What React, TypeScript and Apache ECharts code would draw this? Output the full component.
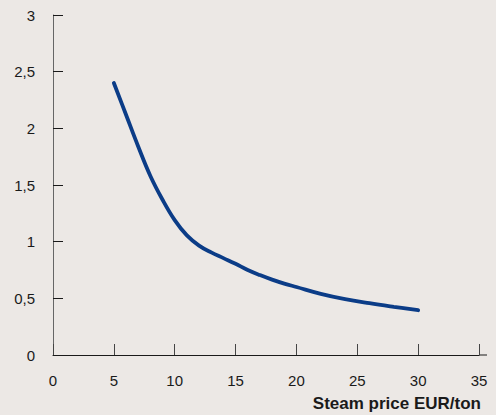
import React, { useEffect, useRef } from "react";
import * as echarts from "echarts";

const xValues = [5, 6, 7, 8, 9, 10, 11, 12, 13, 14, 15, 16, 17, 18, 19, 20, 22, 24, 26, 28, 30];
const yValues = [2.4, 2.12, 1.84, 1.58, 1.37, 1.19, 1.055, 0.965, 0.905, 0.855, 0.805, 0.75, 0.705, 0.665, 0.63, 0.6, 0.54, 0.493, 0.457, 0.425, 0.395];
const xAxisName = "Steam price EUR/ton";

export default function App() {
  const ref = useRef<HTMLDivElement>(null);
  useEffect(() => {
    const chart = echarts.init(ref.current!, null, { renderer: "svg" });
    const font = "'Liberation Sans', Arial, Helvetica, sans-serif";
    chart.setOption({
      animation: false,
      backgroundColor: "#ECE8E5",
      grid: { left: 53, right: 17, top: 15, bottom: 60, containLabel: false },
      xAxis: {
        type: "value",
        min: 0,
        max: 35,
        interval: 5,
        name: xAxisName,
        nameLocation: "end",
        nameGap: 2,
        nameTextStyle: {
          fontFamily: font,
          fontSize: 17,
          fontWeight: "bold",
          color: "#1a1a1a",
          align: "right",
          verticalAlign: "top",
          padding: [40, 0, 0, 0],
        },
        axisLine: { show: true, lineStyle: { color: "#1a1a1a", width: 1 } },
        axisTick: { show: true, inside: true, length: 11, lineStyle: { color: "#444", width: 1 } },
        axisLabel: { fontFamily: font, fontSize: 15, color: "#1a1a1a", margin: 18 },
        splitLine: { show: false },
      },
      yAxis: {
        type: "value",
        min: 0,
        max: 3,
        interval: 0.5,
        axisLine: { show: true, lineStyle: { color: "#666", width: 1 } },
        axisTick: { show: true, inside: true, length: 10, lineStyle: { color: "#1a1a1a", width: 1 } },
        axisLabel: {
          fontFamily: font,
          fontSize: 15,
          color: "#1a1a1a",
          margin: 18,
          formatter: (v: number) => String(v).replace(".", ","),
        },
        splitLine: { show: false },
      },
      graphic: [
        {
          type: "line",
          shape: { x1: 479, y1: 355, x2: 487, y2: 355 },
          style: { stroke: "#1a1a1a", lineWidth: 1 },
        },
      ],
      series: [
        {
          type: "line",
          data: xValues.map((x, i) => [x, yValues[i]]),
          smooth: 0.4,
          showSymbol: false,
          lineStyle: { color: "#0B3C87", width: 3.8, cap: "round" },
        },
      ],
    });
    return () => chart.dispose();
  }, []);
  return <div ref={ref} style={{ position: "absolute", left: 0, top: 0, width: 496, height: 415 }} />;
}
